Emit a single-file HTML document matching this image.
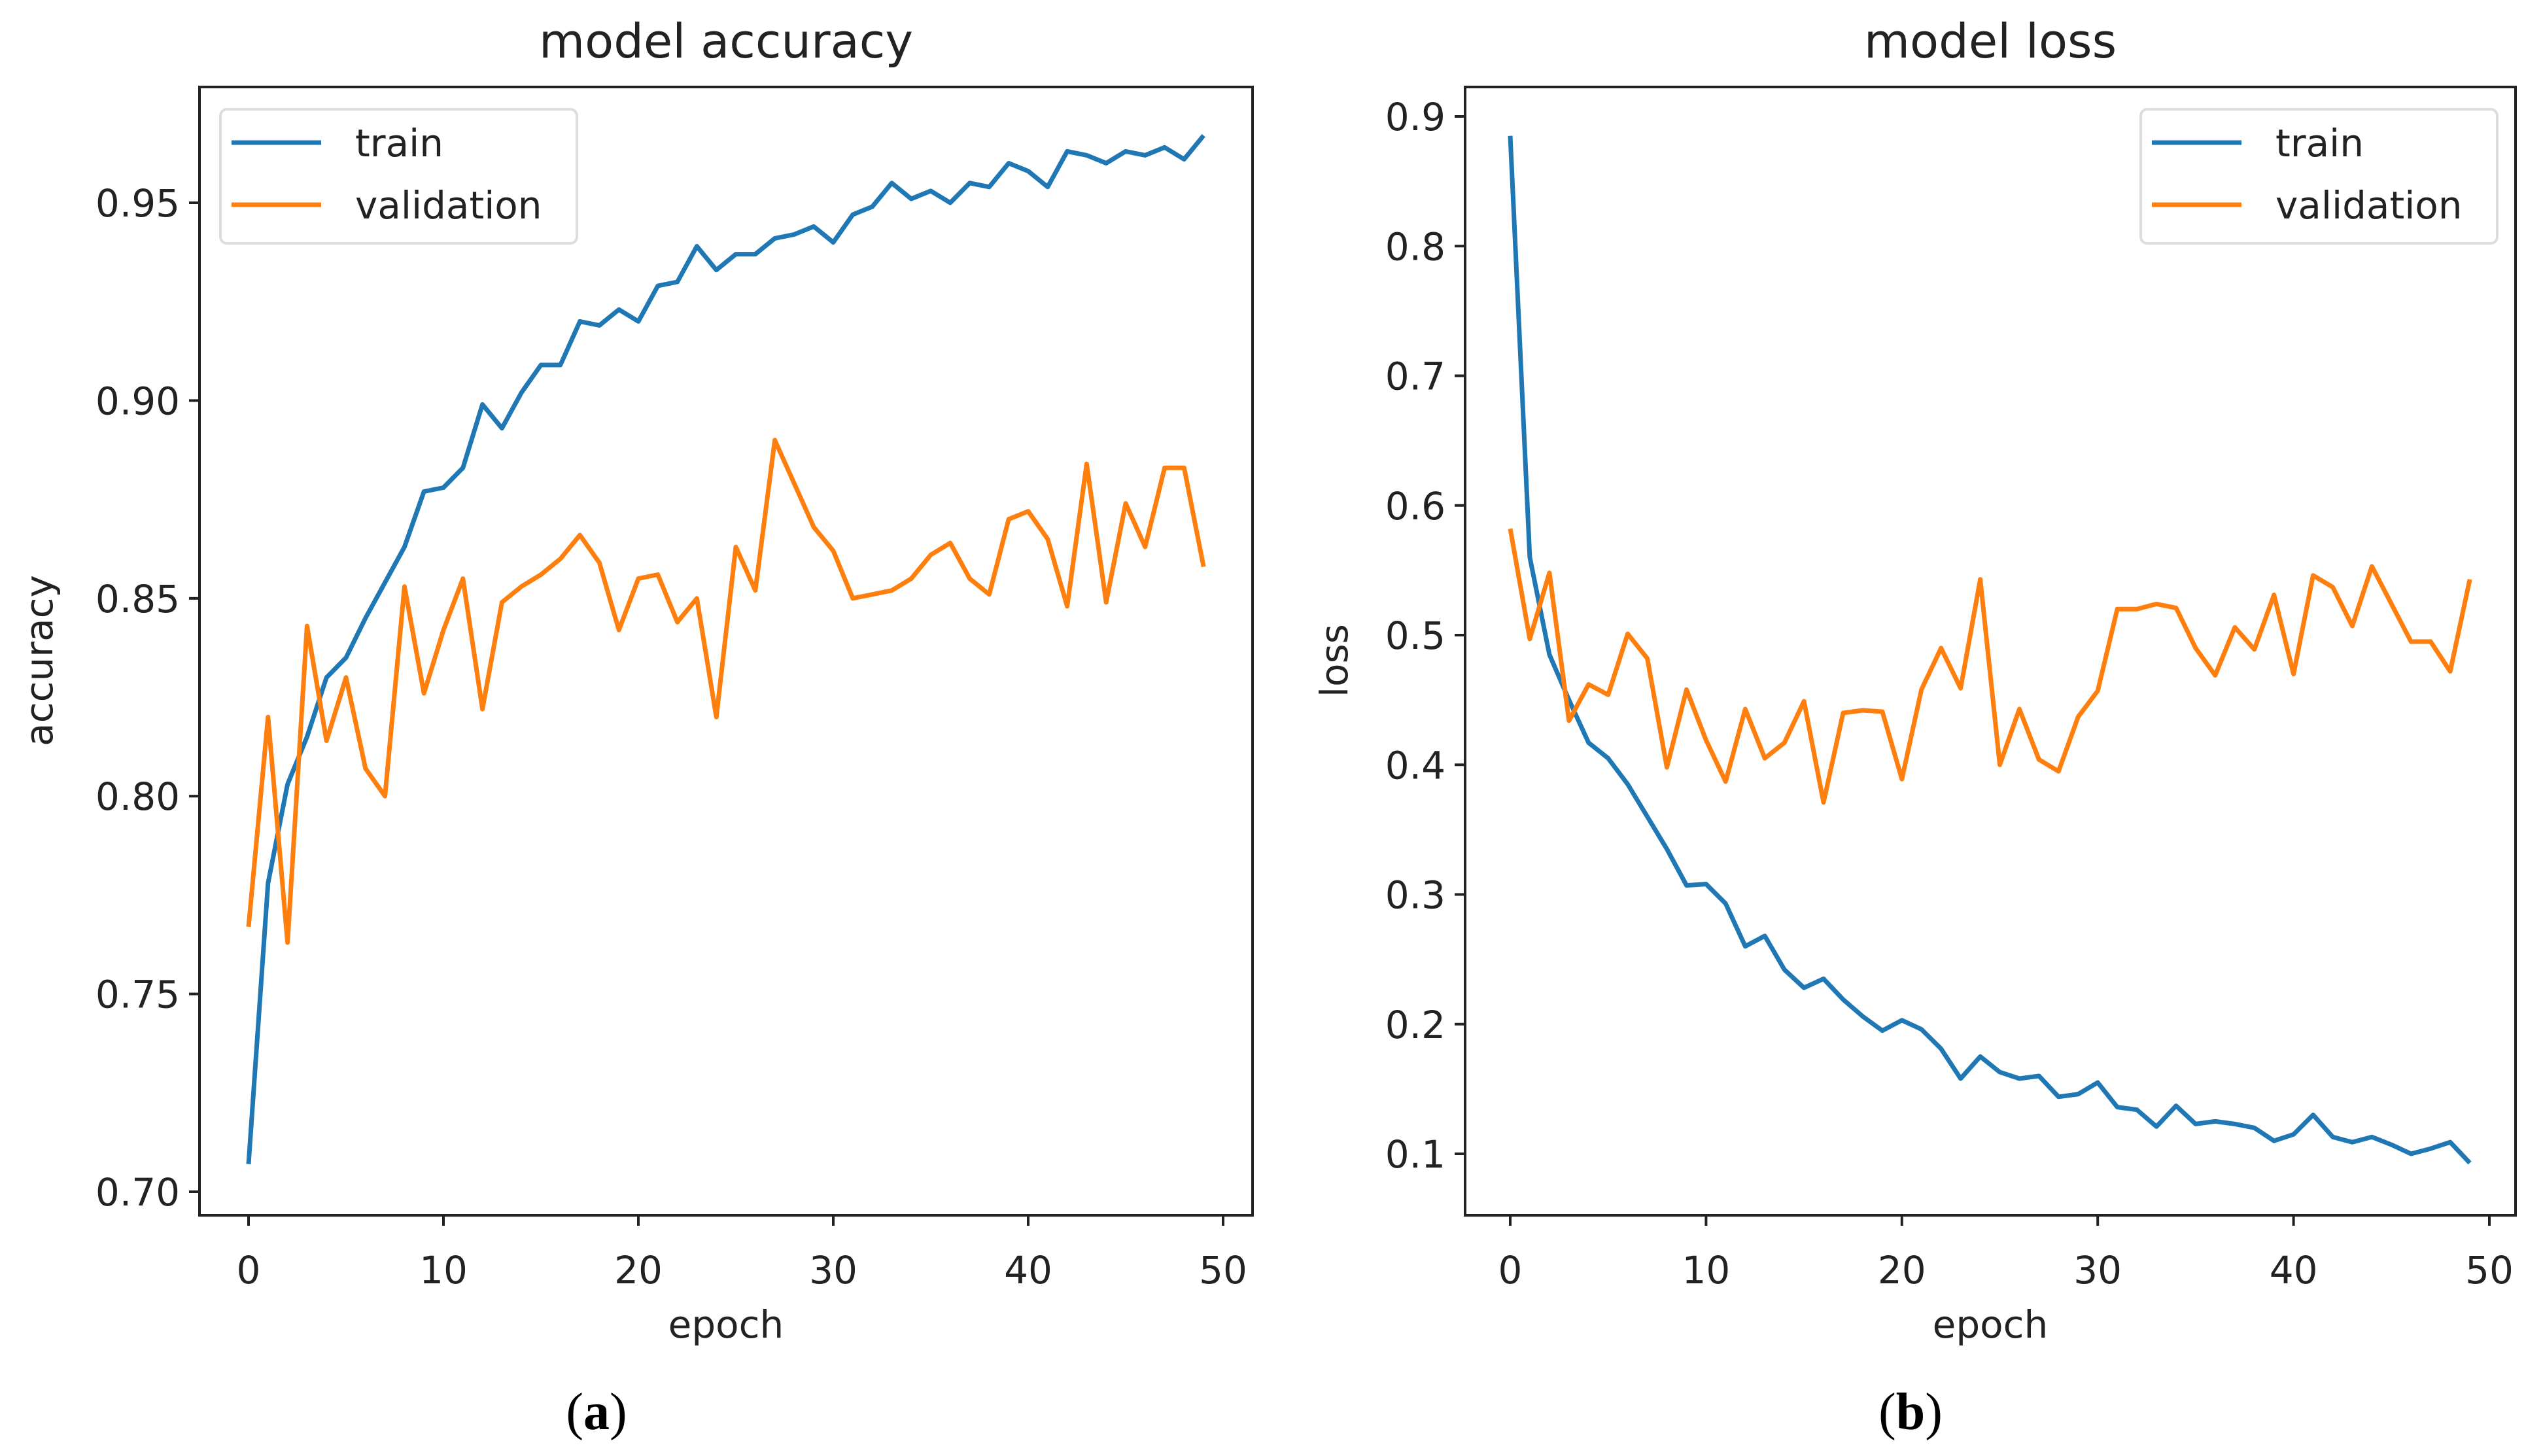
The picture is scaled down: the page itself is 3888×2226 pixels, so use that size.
<!DOCTYPE html>
<html><head><meta charset="utf-8"><style>
html,body{margin:0;padding:0;background:#fff;}
svg{display:block;font-family:"DejaVu Sans","Liberation Sans",sans-serif;}
</style></head><body>
<svg id="fig" width="3888" height="2226" viewBox="0 0 3888 2226" xmlns="http://www.w3.org/2000/svg"></svg>
<script>
const epochs = Array.from({length:50},(_,i)=>i);
const accTrain=[0.707,0.778,0.803,0.815,0.830,0.835,0.845,0.854,0.863,0.877,0.878,0.883,0.899,0.893,0.902,0.909,0.909,0.920,0.919,0.923,0.920,0.929,0.930,0.939,0.933,0.937,0.937,0.941,0.942,0.944,0.940,0.947,0.949,0.955,0.951,0.953,0.950,0.955,0.954,0.960,0.958,0.954,0.963,0.962,0.960,0.963,0.962,0.964,0.961,0.967];
const accVal=[0.767,0.820,0.763,0.843,0.814,0.830,0.807,0.800,0.853,0.826,0.842,0.855,0.822,0.849,0.853,0.856,0.860,0.866,0.859,0.842,0.855,0.856,0.844,0.850,0.820,0.863,0.852,0.890,0.879,0.868,0.862,0.850,0.851,0.852,0.855,0.861,0.864,0.855,0.851,0.870,0.872,0.865,0.848,0.884,0.849,0.874,0.863,0.883,0.883,0.858];
const lossTrain=[0.885,0.56,0.485,0.45,0.417,0.405,0.385,0.36,0.335,0.307,0.308,0.293,0.26,0.268,0.242,0.228,0.235,0.219,0.206,0.195,0.203,0.196,0.181,0.158,0.175,0.163,0.158,0.16,0.144,0.146,0.155,0.136,0.134,0.121,0.137,0.123,0.125,0.123,0.12,0.11,0.115,0.13,0.113,0.109,0.113,0.107,0.1,0.104,0.109,0.093];
const lossVal=[0.582,0.497,0.548,0.434,0.462,0.454,0.501,0.482,0.398,0.458,0.419,0.387,0.443,0.405,0.417,0.449,0.371,0.44,0.442,0.441,0.389,0.458,0.49,0.459,0.543,0.4,0.443,0.404,0.395,0.437,0.457,0.52,0.52,0.524,0.521,0.49,0.469,0.506,0.489,0.531,0.47,0.546,0.537,0.507,0.553,0.524,0.495,0.495,0.472,0.543];
const xTicks=[0,10,20,30,40,50];
const accTicks=[0.70,0.75,0.80,0.85,0.90,0.95];
const accTickLabels=["0.70","0.75","0.80","0.85","0.90","0.95"];
const lossTicks=[0.1,0.2,0.3,0.4,0.5,0.6,0.7,0.8,0.9];
const lossTickLabels=["0.1","0.2","0.3","0.4","0.5","0.6","0.7","0.8","0.9"];

const svg=document.getElementById('fig');
const NS='http://www.w3.org/2000/svg';
function mk(tag,attrs,parent){const e=document.createElementNS(NS,tag);for(const k in attrs)e.setAttribute(k,attrs[k]);(parent||svg).appendChild(e);return e;}

function panel(cfg){
  const g=mk('g',{});
  
  
  const X=v=>cfg.x0+(v-0)*(cfg.x50-cfg.x0)/50;
  const Y=v=>cfg.yA+(v-cfg.vA)*(cfg.yB-cfg.yA)/(cfg.vB-cfg.vA);
  const t=mk('text',{x:(cfg.bx0+cfg.bx1)/2,y:88,'font-size':72,'text-anchor':'middle',fill:'#222'},g);
  t.textContent=cfg.title;
  
  
  const series=[[cfg.train,'#1f77b4','train-line'],[cfg.val,'#ff7f0e','validation-line']];
  series.forEach(s=>{
    const d=s[0].map((v,i)=>(i?'L':'M')+X(epochs[i]).toFixed(1)+','+Y(v).toFixed(1)).join(' ');
    const p=mk('path',{d:d,fill:'none',stroke:s[1],'stroke-width':7,'stroke-linejoin':'round'},g);
    
    
  });
  const box=mk('rect',{x:cfg.bx0,y:cfg.by0,width:cfg.bx1-cfg.bx0,height:cfg.by1-cfg.by0,fill:'none',stroke:'#222','stroke-width':4},g);
  
  
  xTicks.forEach(v=>{
    const l=mk('line',{x1:X(v),x2:X(v),y1:cfg.by1,y2:cfg.by1+16,stroke:'#222','stroke-width':4},g);
    
    
    const tx=mk('text',{x:X(v),y:1962,'font-size':58,'text-anchor':'middle',fill:'#222'},g);
    tx.textContent=String(v);
    
    
  });
  cfg.ticks.forEach((v,i)=>{
    const l=mk('line',{x1:cfg.bx0-16,x2:cfg.bx0,y1:Y(v),y2:Y(v),stroke:'#222','stroke-width':4},g);
    
    
    const tx=mk('text',{x:cfg.bx0-30,y:Y(v)+21,'font-size':58,'text-anchor':'end',fill:'#222'},g);
    tx.textContent=cfg.tickLabels[i];
    
    
  });
  const xl=mk('text',{x:(cfg.bx0+cfg.bx1)/2,y:2045,'font-size':58,'text-anchor':'middle',fill:'#222'},g);
  xl.textContent='epoch';
  
  
  const yl=mk('text',{x:0,y:0,'font-size':58,'text-anchor':'middle',fill:'#222',transform:'translate('+(cfg.ylx)+',1010) rotate(-90)'},g);
  yl.textContent=cfg.ylabel;
  
  
  const lg=mk('g',{},g);
  
  
  mk('rect',{x:cfg.lx,y:167,width:545,height:205,rx:10,fill:'#fff','fill-opacity':0.8,stroke:'#ddd','stroke-width':4},lg);
  [['train','#1f77b4',218],['validation','#ff7f0e',313]].forEach(e=>{
    const le=mk('g',{},lg);
    
    
    mk('line',{x1:cfg.lx+17,x2:cfg.lx+154,y1:e[2],y2:e[2],stroke:e[1],'stroke-width':7},le);
    const tt=mk('text',{x:cfg.lx+206,y:e[2]+21,'font-size':58,fill:'#222'},le);
    tt.textContent=e[0];
  });
  const cap=mk('text',{x:cfg.capx,y:2185,'font-size':80,'text-anchor':'middle',fill:'#000','font-family':'Liberation Serif, serif'},g);
  cap.innerHTML=cfg.cap;
  
  
}
panel({name:'accuracy-chart',title:'model accuracy',bx0:305,bx1:1915,by0:133,by1:1858,x0:380,x50:1870,vA:0.70,yA:1822,vB:0.95,yB:310,
  train:accTrain,val:accVal,ticks:accTicks,tickLabels:accTickLabels,ylabel:'accuracy',ylx:80,lx:337,capx:912,
  cap:'(<tspan font-weight="bold">a</tspan>)'});
panel({name:'loss-chart',title:'model loss',bx0:2240,bx1:3846,by0:133,by1:1858,x0:2309,x50:3806,vA:0.1,yA:1764,vB:0.9,yB:178,
  train:lossTrain,val:lossVal,ticks:lossTicks,tickLabels:lossTickLabels,ylabel:'loss',ylx:2060,lx:3273,capx:2921,
  cap:'(<tspan font-weight="bold">b</tspan>)'});
</script>
</body></html>
